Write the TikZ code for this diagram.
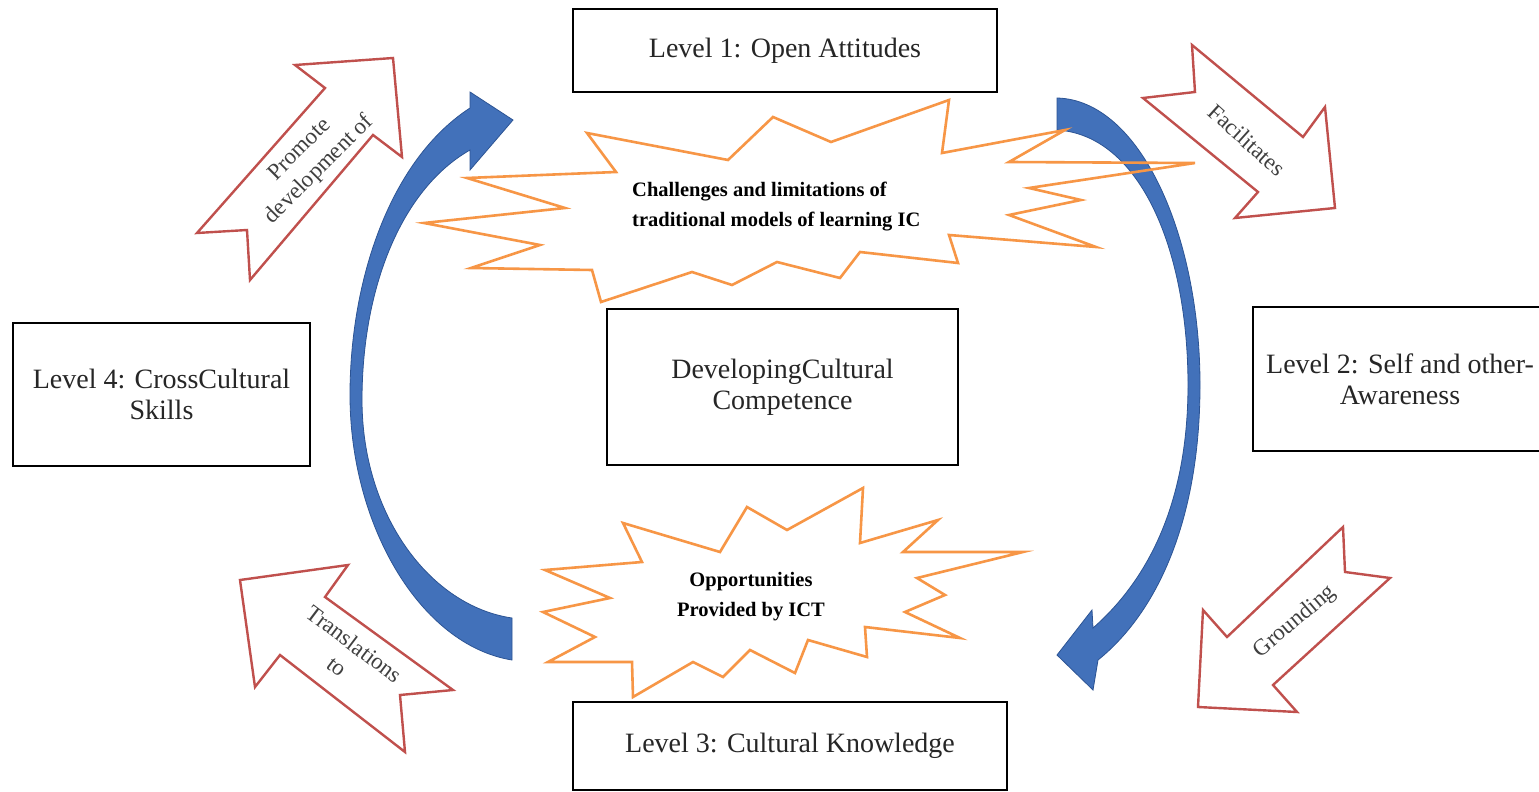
\documentclass[tikz,border=0pt]{standalone}
\usepackage{fontspec}
\setmainfont{Liberation Serif}
\definecolor{burstorange}{RGB}{247,150,70}
\definecolor{arrred}{RGB}{192,80,77}
\definecolor{bluefill}{RGB}{66,113,186}
\definecolor{blueedge}{RGB}{44,84,148}
\newcommand\dgBoxFont{\fontsize{28}{31}\selectfont}
\newcommand\dgArrFont{\fontsize{23}{28}\selectfont}
\newcommand\dgBurstFont{\fontsize{20.5}{30}\selectfont\bfseries}
\begin{document}
\begin{tikzpicture}[x=1pt,y=-1pt,
  box/.style={draw=black,line width=2.8pt,fill=white,align=center,inner sep=0pt,font=\dgBoxFont,text=black!85},
  burst/.style={draw=burstorange,line width=2.6pt,line join=miter},
  blockarrow/.style={draw=arrred,line width=2.4pt,fill=white,line join=miter},
  bluearrow/.style={fill=bluefill,draw=blueedge,line width=0.8pt},
  arrtext/.style={font=\dgArrFont,text=black!75,align=center,inner sep=0pt},
  bursttext/.style={font=\dgBurstFont,inner sep=0pt}]
\useasboundingbox (0,0) rectangle (1539,792);
\clip (0,0) rectangle (1539,792);
\fill[white] (0,0) rectangle (1539,792);

% level boxes
\node[box,minimum width=424pt,minimum height=83pt] (l1) at (785,50.5) {Level 1: Open Attitudes};
\node[box,minimum width=297pt,minimum height=143pt] (l4) at (161.5,394.5) {Level 4: CrossCultural\\Skills};
\node[box,minimum width=351pt,minimum height=156pt] (cen) at (782.5,387) {DevelopingCultural\\Competence};
\node[box,minimum width=294pt,minimum height=144pt] (l2) at (1400,379) {Level 2: Self and other-\\Awareness};
\node[box,minimum width=434pt,minimum height=88pt] (l3) at (790,746) {Level 3: Cultural Knowledge};

% blue curved arrows
\path[bluearrow] (512,618) .. controls (430,606) and (362,515) .. (362,400)
  .. controls (362,290) and (400,190) .. (470,150) -- (470,170) -- (513,120) -- (470,92) -- (470,108)
  .. controls (390,160) and (350,280) .. (350,395)
  .. controls (350,525) and (420,645) .. (512,660) -- cycle;
\path[bluearrow] (1057,98) .. controls (1140,100) and (1200,235) .. (1200,385)
  .. controls (1200,515) and (1160,610) .. (1098,660) -- (1093,690) -- (1057,655) -- (1092,610) -- (1093,628)
  .. controls (1150,578) and (1188,500) .. (1188,385)
  .. controls (1188,250) and (1140,135) .. (1057,130) -- cycle;

% bursts
\draw[burst] (587,133) -- (616,172) -- (467,178) -- (565,208) -- (424,223) -- (540,245) -- (471,268)
  -- (592,270) -- (601,302) -- (692,272) -- (732,285) -- (777,262) -- (840,278) -- (860,252)
  -- (958,263) -- (949,235) -- (1096,247) -- (1009,215) -- (1081,200) -- (1029,188) -- (1195,163)
  -- (1009,162) -- (1065,130) -- (942,153) -- (949,100) -- (831,142) -- (773,117) -- (728,160) -- cycle;
\draw[burst] (623,523) -- (642,562) -- (545,570) -- (610,598) -- (543,612) -- (595,637) -- (548,662)
  -- (632,662) -- (633,697) -- (693,662) -- (723,677) -- (750,650) -- (795,673) -- (808,640)
  -- (867,657) -- (865,627) -- (960,638) -- (905,612) -- (945,595) -- (917,578) -- (1023,552)
  -- (903,552) -- (938,520) -- (860,543) -- (863,488) -- (787,530) -- (747,507) -- (720,552) -- cycle;
\node[bursttext,anchor=west,align=left] (chal) at (632,207) {Challenges and limitations of\\traditional models of learning IC};
\node[bursttext,align=center] (opp) at (751,597) {Opportunities\\Provided by ICT};

% red block arrows
\draw[blockarrow] (393,58) -- (402,157) -- (373,135) -- (250,280) -- (247,230) -- (197,233) -- (325,88) -- (295,65) -- cycle;
\draw[blockarrow] (1335,208) -- (1325,107) -- (1303,137) -- (1192,45) -- (1195,92) -- (1143,98) -- (1258,192) -- (1235,218) -- cycle;
\draw[blockarrow] (240,580) -- (348,565) -- (325,597) -- (453,690) -- (400,695) -- (405,752) -- (280,655) -- (255,687) -- cycle;
\draw[blockarrow] (1198,707) -- (1203,610) -- (1227,637) -- (1343,527) -- (1345,572) -- (1390,578) -- (1273,685) -- (1297,712) -- cycle;
\node[arrtext,rotate=45] (tprom) at (310,160) {Promote\\development of};
\node[arrtext,rotate=-42] (tfac) at (1247,140) {Facilitates};
\node[arrtext,rotate=-37] (ttra) at (346,655) {Translations\\to};
\node[arrtext,rotate=40] (tgro) at (1295,622) {Grounding};
\end{tikzpicture}
\end{document}
